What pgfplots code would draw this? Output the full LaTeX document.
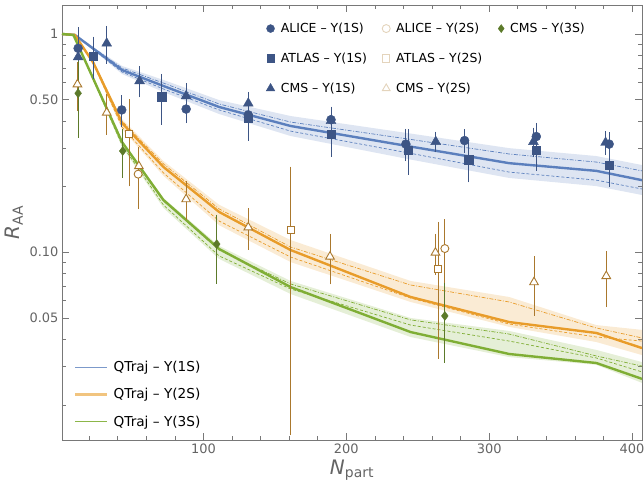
\documentclass[border=0pt]{standalone}
\usepackage{fontspec}
\setmainfont{DejaVu Sans}
\usepackage{pgfplots}
\pgfplotsset{compat=1.18}
\usetikzlibrary{calc}

\definecolor{qblue}{RGB}{91,127,189}
\definecolor{qorange}{RGB}{232,156,42}
\definecolor{qgreen}{RGB}{127,174,53}
\definecolor{dblue}{RGB}{61,85,133}
\definecolor{dbrown}{RGB}{170,120,45}
\definecolor{dgreen}{RGB}{92,122,42}
\definecolor{beige}{RGB}{228,212,188}
\definecolor{framegray}{RGB}{120,120,120}
\definecolor{labgray}{RGB}{100,100,100}

\pgfplotsset{
  errs/.style={error bars/.cd, y dir=both, y explicit,
    error bar style={line width=0.9bp,#1},
    error mark options={mark size=3bp,line width=0.9bp,#1}},
  band/.style={draw=none,fill=#1,fill opacity=0.2,forget plot},
  central/.style={#1,line width=2.4bp,forget plot},
  dd/.style={#1,line width=0.7bp,dash pattern=on 4bp off 1.5bp on 1bp off 1.5bp,forget plot},
  ds/.style={#1,line width=0.7bp,dash pattern=on 3bp off 2bp,forget plot},
  legax/.style={scale only axis, width=580bp, height=435bp, hide axis,
    xmin=0, xmax=1, ymin=0, ymax=1, legend cell align=left},
  toplegend/.style={legend style={draw=none,fill=none,font=\fontsize{12.5}{15}\selectfont,
    at={(rel axis cs:#1,0.968)},anchor=north west,row sep=15bp,
    /tikz/every odd column/.append style={column sep=4bp}}},
}

\begin{document}
\begin{tikzpicture}
\begin{semilogyaxis}[name=main,
  scale only axis, width=580bp, height=435bp,
  xmin=1, xmax=407, ymin=0.0138, ymax=1.358,
  axis line style={framegray,line width=0.8bp},
  tick style={framegray,line width=0.6bp},
  major tick length=7bp, minor tick length=4bp, tick align=inside,
  xtick={100,200,300,400}, xticklabels={100,200,300,400},
  minor xtick={20,40,60,80,120,140,160,180,220,240,260,280,320,340,360,380},
  ytick={0.05,0.1,0.5,1}, yticklabels={0.05,0.10,0.50,1},
  minor ytick={0.02,0.03,0.04,0.06,0.07,0.08,0.09,0.2,0.3,0.4,0.6,0.7,0.8,0.9},
  ticklabel style={font=\fontsize{13}{15}\selectfont,text=labgray},
  xlabel={\textit{N}\textsubscript{part}},
  ylabel={\textit{R}\textsubscript{AA}},
  label style={font=\fontsize{20}{24}\selectfont,text=labgray},
]
% bands
\addplot[band=qblue] coordinates {(2,1)(10,0.99)(43,0.714)(72,0.616)(111,0.498)(161,0.421)(245,0.350)(314,0.300)(375,0.276)(407,0.251)
  (407,0.183)(375,0.201)(314,0.219)(245,0.266)(161,0.341)(111,0.430)(72,0.542)(43,0.656)(10,0.99)(2,1)};
\addplot[band=qorange] coordinates {(2,1)(10,0.99)(23,0.752)(43,0.408)(72,0.262)(111,0.165)(161,0.1138)(245,0.0739)(314,0.0624)(375,0.0464)(407,0.0441)
  (407,0.0338)(375,0.0388)(314,0.0455)(245,0.0592)(161,0.0902)(111,0.133)(72,0.224)(43,0.367)(23,0.721)(10,0.99)(2,1)};
\addplot[band=qgreen] coordinates {(2,1)(9,0.99)(43,0.327)(72,0.1773)(111,0.1069)(161,0.0739)(245,0.0500)(314,0.0436)(375,0.0357)(407,0.0314)
  (407,0.0252)(375,0.0305)(314,0.0331)(245,0.0409)(161,0.0644)(111,0.0932)(72,0.1596)(43,0.304)(9,0.99)(2,1)};
% dash-dot and dashed curves
\addplot[dd=qblue] coordinates {(2,1)(10,0.99)(43,0.699)(72,0.596)(111,0.478)(161,0.395)(245,0.329)(314,0.282)(375,0.259)(407,0.236)};
\addplot[ds=qblue] coordinates {(2,1)(10,0.99)(43,0.670)(72,0.560)(111,0.449)(161,0.359)(245,0.284)(314,0.233)(375,0.214)(407,0.195)};
\addplot[dd=qorange] coordinates {(2,1)(10,0.99)(23,0.744)(43,0.399)(72,0.254)(111,0.158)(161,0.1057)(245,0.0708)(314,0.0592)(375,0.0450)(407,0.0405)};
\addplot[ds=qorange] coordinates {(2,1)(10,0.99)(23,0.729)(43,0.375)(72,0.231)(111,0.139)(161,0.0951)(245,0.0617)(314,0.0469)(375,0.0409)(407,0.0392)};
\addplot[dd=qgreen] coordinates {(2,1)(9,0.99)(43,0.320)(72,0.1718)(111,0.1024)(161,0.0716)(245,0.0490)(314,0.0422)(375,0.0335)(407,0.0301)};
\addplot[ds=qgreen] coordinates {(2,1)(9,0.99)(43,0.310)(72,0.1647)(111,0.0962)(161,0.0679)(245,0.0464)(314,0.0392)(375,0.0328)(407,0.0283)};
% central curves
\addplot[central=qblue] coordinates {(1,1)(10,0.99)(43,0.684)(72,0.578)(111,0.463)(161,0.379)(245,0.305)(314,0.256)(375,0.236)(407,0.214)};
\addplot[central=qorange] coordinates {(1,1)(10,0.99)(23,0.737)(43,0.391)(72,0.246)(111,0.153)(161,0.1024)(245,0.0624)(314,0.0479)(375,0.0427)(407,0.0364)};
\addplot[central=qgreen] coordinates {(1,1)(9,0.99)(43,0.320)(72,0.1736)(111,0.1035)(161,0.0693)(245,0.0431)(314,0.0342)(375,0.0311)(407,0.0263)};
% data: Y(1S)
\addplot[forget plot,only marks,mark=*,mark size=4.5bp,dblue,errs=dblue] coordinates {
  (12.3,0.86)+-(0,0.18) (42.8,0.449)+-(0,0.06) (87.9,0.453)+-(0,0.05) (131.4,0.426)+-(0,0.05)
  (189.3,0.405)+-(0,0.045) (241.7,0.313)+-(0,0.043) (282.8,0.325)+-(0,0.03) (333,0.339)+-(0,0.04) (384,0.313)+-(0,0.03)};
\addplot[forget plot,only marks,mark=square*,mark size=4.2bp,dblue,errs=dblue] coordinates {
  (23,0.793)+-(0,0.15) (70.7,0.516)+-(0,0.12) (131.4,0.411)+-(0,0.077) (189.3,0.348)+-(0,0.065)
  (243.5,0.294)+-(0,0.06) (285.6,0.265)+-(0,0.049) (333,0.294)+-(0,0.05) (384,0.25)+-(0,0.044)};
\addplot[forget plot,only marks,mark=triangle*,mark size=5.7bp,dblue,errs=dblue] coordinates {
  (12.3,0.784)+-(0,0.085) (32.3,0.906)+-(0,0.15) (55.3,0.609)+-(0,0.08) (87.9,0.520)+-(0,0.055)
  (131.4,0.481)+-(0,0.045) (189.3,0.400)+-(0,0.045) (262.6,0.321)+-(0,0.025) (331,0.321)+-(0,0.04) (381.5,0.318)+-(0,0.03)};
% data: Y(2S)
\addplot[forget plot,only marks,mark=*,mark size=4bp,mark options={fill=white,draw=dbrown,line width=0.9bp},errs=dbrown] coordinates {
  (54.3,0.228)+-(0,0.065) (269,0.104)+-(0,0.033)};
\addplot[forget plot,only marks,mark=square*,mark size=3.6bp,mark options={fill=white,draw=dbrown,line width=0.9bp},errs=dbrown] coordinates {
  (47.9,0.347)+-(0,0.14) (161,0.127)+-(0,0.112) (264.2,0.0836)+-(0,0.05)};
\addplot[forget plot,only marks,mark=triangle*,mark size=5bp,mark options={fill=white,draw=dbrown,line width=0.9bp},errs=dbrown] coordinates {
  (11.8,0.588)+-(0,0.13) (32.3,0.436)+-(0,0.08) (54.8,0.248)+-(0,0.03) (87.9,0.175)+-(0,0.03) (131.4,0.130)+-(0,0.024)
  (188.6,0.0955)+-(0,0.022) (262.4,0.0996)+-(0,0.018) (331.4,0.0729)+-(0,0.02) (382,0.0778)+-(0,0.02)};
% data: Y(3S)
\addplot[forget plot,only marks,mark=diamond*,mark size=4.5bp,dgreen,errs=dgreen] coordinates {
  (12.3,0.535)+-(0,0.19) (43.5,0.291)+-(0,0.065) (109.3,0.109)+-(0,0.035) (269,0.0511)+-(0,0.019)};
\end{semilogyaxis}
% top legend, first column
\begin{axis}[legax, toplegend=0.3466]
\addlegendimage{only marks,mark=*,mark size=4bp,dblue}
\addlegendentry{ALICE – Υ(1S)}
\addlegendimage{only marks,mark=square*,mark size=3.8bp,dblue}
\addlegendentry{ATLAS – Υ(1S)}
\addlegendimage{only marks,mark=triangle*,mark size=5bp,dblue}
\addlegendentry{CMS – Υ(1S)}
\end{axis}
% top legend, second column
\begin{axis}[legax, toplegend=0.5466]
\addlegendimage{only marks,mark=*,mark size=4bp,mark options={fill=white,draw=beige,line width=0.9bp}}
\addlegendentry{ALICE – Υ(2S)}
\addlegendimage{only marks,mark=square*,mark size=3.6bp,mark options={fill=white,draw=beige,line width=0.9bp}}
\addlegendentry{ATLAS – Υ(2S)}
\addlegendimage{only marks,mark=triangle*,mark size=4.5bp,mark options={fill=white,draw=beige,line width=0.9bp}}
\addlegendentry{CMS – Υ(2S)}
\end{axis}
% top legend, third column
\begin{axis}[legax, toplegend=0.7466]
\addlegendimage{only marks,mark=diamond*,mark size=4bp,dgreen}
\addlegendentry{CMS – Υ(3S)}
\end{axis}
% theory legend
\begin{axis}[legax,
  legend style={draw=none,fill=none,font=\fontsize{13.7}{16}\selectfont,
    at={(rel axis cs:0.0155,0.191)},anchor=north west,row sep=11.5bp,
    /tikz/every odd column/.append style={column sep=3bp}},
  legend image code/.code={\draw[#1] (0bp,0bp) -- (32bp,0bp);}]
\addlegendimage{color=qblue!80!white,line width=1bp}
\addlegendentry{QTraj – Υ(1S)}
\addlegendimage{color=qorange!60!white,line width=2.5bp}
\addlegendentry{QTraj – Υ(2S)}
\addlegendimage{color=qgreen!90!white,line width=1.5bp}
\addlegendentry{QTraj – Υ(3S)}
\end{axis}
\pgfresetboundingbox
\path[use as bounding box] ($(main.south west)+(-62bp,-49bp)$) rectangle ($(main.north east)+(2bp,5bp)$);
\end{tikzpicture}
\end{document}
